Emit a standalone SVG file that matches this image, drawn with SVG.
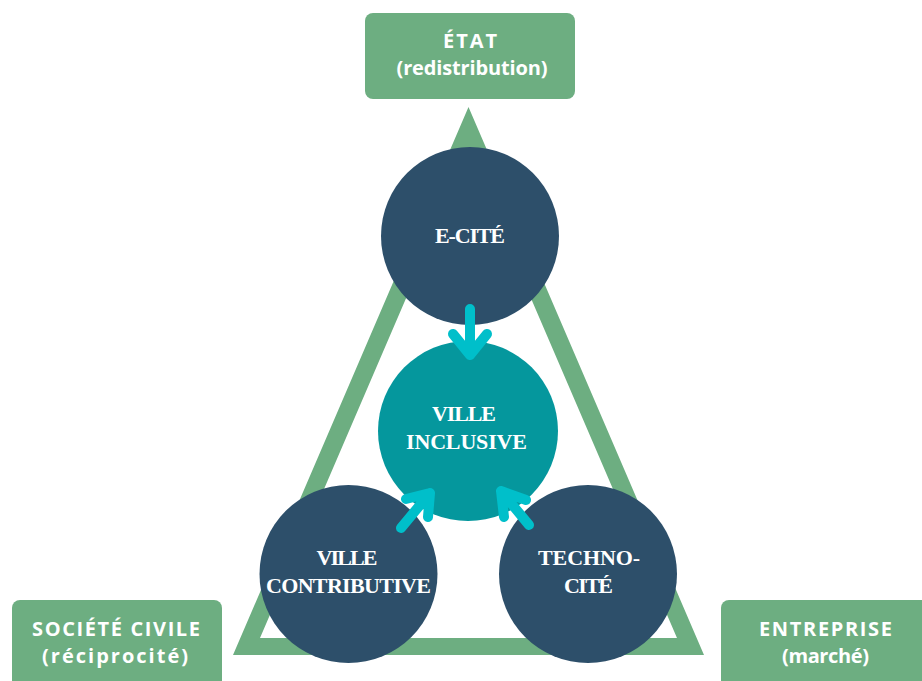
<svg xmlns="http://www.w3.org/2000/svg" width="922" height="681" viewBox="0 0 922 681">
  <style>
    .box { fill: #6DAE81; }
    .boxt { font-family: "Open Sans", "Lato", "Liberation Sans", sans-serif; font-weight: bold; font-size: 20px; fill: #FFFFFF; text-anchor: middle; }
    .dark { fill: #2D4F6A; }
    .teal { fill: #05979D; }
    .ct { font-family: "Liberation Serif", "DejaVu Serif", serif; font-weight: bold; font-size: 22px; fill: #FFFFFF; text-anchor: middle; }
    .arr { fill: none; stroke: #00BFCA; stroke-width: 10; stroke-linecap: round; stroke-linejoin: round; }
  </style>
  <rect width="922" height="681" fill="#FFFFFF"/>

  <g id="triangle">
    <path d="M468.5,107 L233,655 L704,655 Z M468.5,153 L677,638 L260,638 Z" fill="#6DAE81" fill-rule="evenodd"/>
  </g>

  <g id="etat">
    <rect class="box" x="365" y="13" width="210" height="86" rx="8"/>
    <text class="boxt" x="470" y="48" textLength="54" lengthAdjust="spacing">ÉTAT</text>
    <text class="boxt" x="472" y="75" textLength="151" lengthAdjust="spacing">(redistribution)</text>
  </g>

  <g id="societe-civile">
    <rect class="box" x="12" y="600" width="210" height="95" rx="8"/>
    <text class="boxt" x="116" y="636" textLength="168" lengthAdjust="spacing">SOCIÉTÉ CIVILE</text>
    <text class="boxt" x="115" y="663" textLength="146" lengthAdjust="spacing">(réciprocité)</text>
  </g>

  <g id="entreprise">
    <rect class="box" x="721" y="600" width="215" height="95" rx="8"/>
    <text class="boxt" x="825.5" y="636" textLength="133" lengthAdjust="spacing">ENTREPRISE</text>
    <text class="boxt" x="825.5" y="663" textLength="87" lengthAdjust="spacing">(marché)</text>
  </g>

  <g id="e-cite">
    <circle class="dark" cx="470" cy="236" r="89"/>
    <text class="ct" x="470" y="243" textLength="70" lengthAdjust="spacing">E-CITÉ</text>
  </g>

  <g id="ville-inclusive">
    <circle class="teal" cx="468" cy="431" r="90"/>
    <text class="ct" x="464" y="421" textLength="64" lengthAdjust="spacing">VILLE</text>
    <text class="ct" x="466.5" y="449" textLength="121" lengthAdjust="spacing">INCLUSIVE</text>
  </g>

  <g id="ville-contributive">
    <circle class="dark" cx="348.5" cy="574" r="89"/>
    <text class="ct" x="347" y="565" textLength="61" lengthAdjust="spacing">VILLE</text>
    <text class="ct" x="348.5" y="593" textLength="165" lengthAdjust="spacing">CONTRIBUTIVE</text>
  </g>

  <g id="techno-cite">
    <circle class="dark" cx="588" cy="574" r="89"/>
    <text class="ct" x="589" y="565" textLength="102" lengthAdjust="spacing">TECHNO-</text>
    <text class="ct" x="588.5" y="593" textLength="49" lengthAdjust="spacing">CITÉ</text>
  </g>

  <g id="connectors">
    <path class="arr" d="M470,309 L470,355 M453,334 L470,355 L487,334"/>
    <path class="arr" d="M401,528 L430,493 M406,499 L430,493 L428,517"/>
    <path class="arr" d="M529,525 L501,491 M526,500 L501,491 L504,517"/>
  </g>
</svg>
